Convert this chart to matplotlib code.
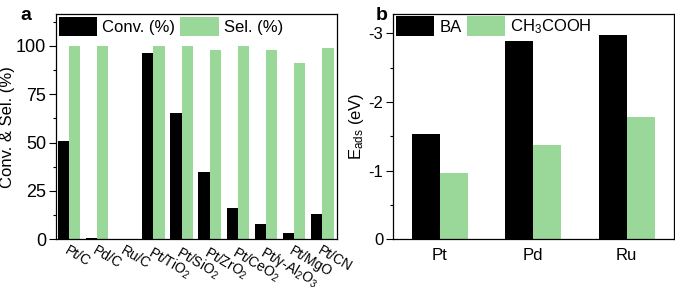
import matplotlib
matplotlib.use('Agg')
import matplotlib.pyplot as plt
import matplotlib.transforms as mtransforms
from matplotlib.ticker import MultipleLocator
import numpy as np

plt.rcParams['font.family'] = ['Liberation Sans', 'DejaVu Sans']
plt.rcParams['mathtext.fontset'] = 'custom'
plt.rcParams['mathtext.rm'] = 'Liberation Sans'
plt.rcParams['mathtext.it'] = 'Liberation Sans:italic'
plt.rcParams['mathtext.default'] = 'regular'
plt.rcParams['axes.unicode_minus'] = False
plt.rcParams['font.size'] = 12

# panel a: catalyst screening
catalysts = ['Pt/C', 'Pd/C', 'Ru/C', 'Pt/TiO$_2$', 'Pt/SiO$_2$', 'Pt/ZrO$_2$',
             'Pt/CeO$_2$', 'Pt/γ-Al$_2$O$_3$', 'Pt/MgO', 'Pt/CN']
conv = [51, 0.5, 0, 96, 65, 35, 16, 8, 3, 13]
sel = [100, 100, 0, 100, 100, 98, 100, 98, 91, 99]

# panel b: adsorption energies
metals = ['Pt', 'Pd', 'Ru']
e_ba = [-1.54, -2.89, -2.97]
e_acid = [-0.965, -1.37, -1.78]

green = '#99D899'
W, H = 675, 287

fig = plt.figure(figsize=(W / 100, H / 100), dpi=100)
ax1 = fig.add_axes([56 / W, 1 - 239.3 / H, (337 - 56) / W, (239.3 - 14) / H])
ax2 = fig.add_axes([393 / W, 1 - 239.3 / H, (673.5 - 393) / W, (239.3 - 14) / H])

x = np.arange(len(catalysts))
ax1.bar(x - 0.2, conv, width=0.4, color='black', label='Conv. (%)')
ax1.bar(x + 0.2, sel, width=0.4, color=green, label='Sel. (%)')
ax1.set_xlim(-0.46, 9.52)
ax1.set_ylim(0, 116.4)
ax1.yaxis.set_major_locator(MultipleLocator(25))
ax1.yaxis.set_minor_locator(MultipleLocator(12.5))
ax1.set_xticks(x)
ax1.set_xticklabels(catalysts, rotation=-30, ha='left', va='top',
                    rotation_mode='anchor', fontsize=10)
off = mtransforms.ScaledTranslation(-6 / 100, 0, fig.dpi_scale_trans)
for lab in ax1.get_xticklabels():
    lab.set_transform(lab.get_transform() + off)
ax1.tick_params(axis='x', length=0, pad=3)
ax1.tick_params(axis='y', labelsize=13)
ax1.set_ylabel('Conv. & Sel. (%)', labelpad=1)

xb = np.arange(len(metals))
ax2.bar(xb - 0.15, e_ba, width=0.3, color='black', label='BA')
ax2.bar(xb + 0.15, e_acid, width=0.3, color=green, label='CH$_3$COOH')
ax2.set_xlim(-0.5, 2.5)
ax2.set_ylim(0, -3.28)
ax2.yaxis.set_major_locator(MultipleLocator(1))
ax2.yaxis.set_minor_locator(MultipleLocator(0.5))
ax2.set_xticks(xb)
ax2.set_xticklabels(metals)
ax2.tick_params(axis='x', length=0, pad=6)
ax2.set_ylabel('E$_{ads}$ (eV)', labelpad=2)

for ax in (ax1, ax2):
    ax.tick_params(axis='y', which='major', direction='out', length=5, width=0.8, pad=2)
    ax.tick_params(axis='y', which='minor', direction='out', length=2.5, width=0.8)
    for s in ax.spines.values():
        s.set_linewidth(0.9)
    ax.legend(loc='upper left', bbox_to_anchor=(0, 1), ncol=2, frameon=False,
              borderpad=0.1, borderaxespad=0.05, handlelength=2.33, handleheight=1.38,
              handletextpad=0.3, columnspacing=0.3, fontsize=12)

fig.text(20 / W, 1 - 20 / H, 'a', fontsize=14, fontweight='bold')
fig.text(376 / W, 1 - 20 / H, 'b', fontsize=14, fontweight='bold')

fig.savefig('out.png', dpi=100)
